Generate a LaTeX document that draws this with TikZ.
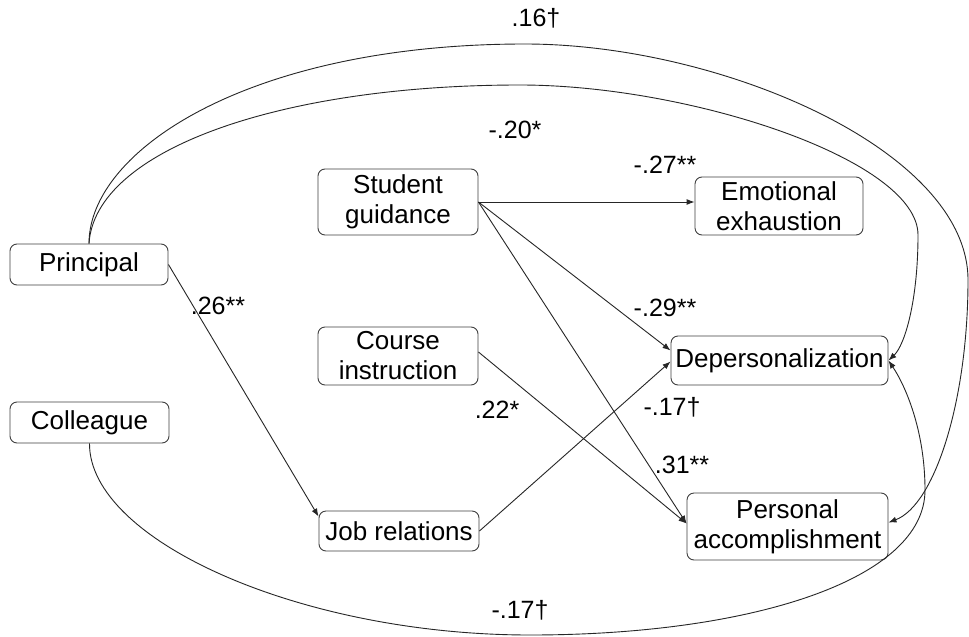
\documentclass[tikz,border=0pt]{standalone}
\usepackage{fontspec}
\setmainfont{Liberation Sans}
\usetikzlibrary{arrows.meta}
\begin{document}
\begin{tikzpicture}[x=1pt,y=-1pt,
  box/.style={draw=black!75, line width=0.9pt, rounded corners=7pt, align=center,
    inner sep=0pt, font=\fontsize{26}{30}\selectfont},
  link/.style={draw=black!85, line width=0.9pt, -{Latex[length=8pt,width=6pt]}},
  coef/.style={font=\fontsize{25}{30}\selectfont, inner sep=0pt}]
\useasboundingbox (0,0) rectangle (969,637);
\fill[white] (0,0) rectangle (969,637);

% predictors
\node[box, minimum width=158pt, minimum height=41pt] (P)  at (89,264.5) {Principal};
\node[box, minimum width=159pt, minimum height=41pt] (C)  at (89.5,422.5) {Colleague};
% mediators
\node[box, minimum width=160pt, minimum height=66pt] (SG) at (398,202) {Student\\guidance};
\node[box, minimum width=160pt, minimum height=58pt] (CI) at (398,356) {Course\\instruction};
\node[box, minimum width=160pt, minimum height=40pt] (JR) at (399,531) {Job relations};
% outcomes
\node[box, minimum width=168pt, minimum height=58pt] (EE) at (779,206) {Emotional\\exhaustion};
\node[box, minimum width=217pt, minimum height=49pt] (DP) at (779.5,360.5) {Depersonalization};
\node[box, minimum width=201pt, minimum height=67pt] (PA) at (787.5,526.5) {Personal\\accomplishment};

% straight paths
\draw[link] (P.east) -- ([yshift=-6pt]JR.north west);
\draw[link] (SG.east) -- (SG.east -| EE.west);
\draw[link] (SG.east) -- ([yshift=10pt]DP.west);
\draw[link] (SG.east) -- ([yshift=3pt]PA.west);
\draw[link] ([yshift=4pt]CI.east) -- ([yshift=3pt]PA.west);
\draw[link] (JR.east) -- ([yshift=-1pt]DP.west);

% curved paths
\draw[link] (P.north) .. controls (95,150) and (280,85) .. (520,85)
  .. controls (690,85) and (918,160) .. (918,235)
  .. controls (918,300) and (905,345) .. (DP.east);
\draw[link] (P.north) .. controls (89,150) and (250,44) .. (525,44)
  .. controls (720,44) and (968,150) .. (968,280)
  .. controls (968,400) and (935,505) .. ([yshift=4pt]PA.east);
\draw[link] (C.south) .. controls (89,540) and (300,635) .. (530,635)
  .. controls (750,635) and (925,580) .. (925,490)
  .. controls (925,430) and (905,385) .. (DP.east);

% coefficients
\node[coef] (k1) at (536,18)  {.16†};
\node[coef] (k2) at (515,130) {-.20*};
\node[coef] (k3) at (665,165) {-.27**};
\node[coef] (k4) at (218,306) {.26**};
\node[coef] (k5) at (665,308) {-.29**};
\node[coef] (k6) at (672,407) {-.17†};
\node[coef] (k7) at (497,410) {.22*};
\node[coef] (k8) at (682,465) {.31**};
\node[coef] (k9) at (520,610) {-.17†};
\end{tikzpicture}
\end{document}
